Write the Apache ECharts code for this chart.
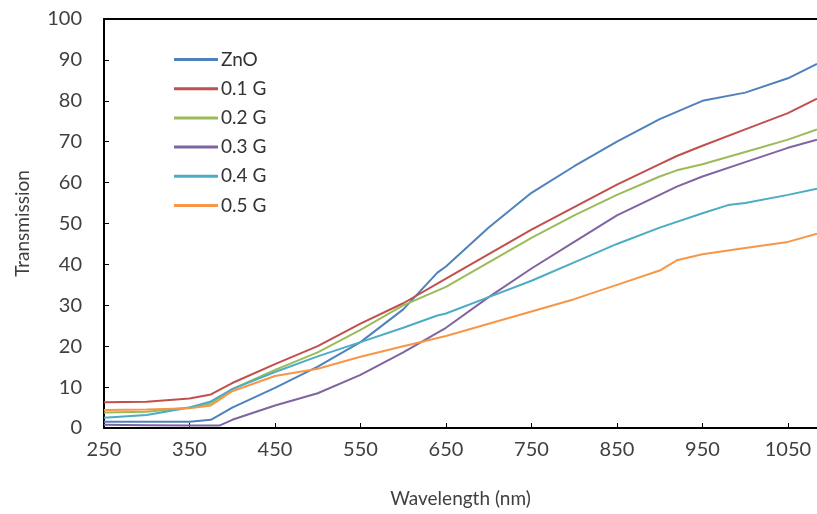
<!DOCTYPE html>
<html lang="en">
<head>
    <meta charset="utf-8">
    <title>Transmission</title>
    <script src="https://cdn.jsdelivr.net/npm/echarts@6/dist/echarts.min.js"></script>
    <style>
        html, body { margin: 0; padding: 0; background: #fff; }
        #chart { width: 817px; height: 514px; }
    </style>
</head>
<body>
<div id="chart"></div>
<script type="text/javascript">
    // values, [wavelength, transmission]
    var seriesNames = ['ZnO', '0.1 G', '0.2 G', '0.3 G', '0.4 G', '0.5 G'];
    var colors = ['#4F81BD', '#C0504D', '#9BBB59', '#8064A2', '#4BACC6', '#F79646'];

    var zno = [[250,1.5],[300,1.5],[350,1.5],[375,2],[400,5],[450,9.8],[500,15],[550,21],[600,29],[640,38],[650,39.5],[700,49],[750,57.5],[800,64],[850,70],[900,75.5],[950,80],[1000,82],[1050,85.5],[1084,89]];
    var g01 = [[250,6.3],[300,6.4],[350,7.2],[375,8.2],[400,11],[450,15.6],[500,20],[550,25.5],[600,30.5],[650,36.5],[700,42.5],[750,48.5],[800,54],[850,59.5],[900,64.5],[920,66.5],[950,69],[1000,73],[1050,77],[1084,80.5]];
    var g02 = [[250,3.8],[300,4],[350,5],[375,6],[400,9.5],[450,14.2],[500,18.5],[550,24],[600,30],[650,34.5],[700,40.5],[750,46.5],[800,52],[850,57],[900,61.5],[920,63],[950,64.5],[1000,67.5],[1050,70.5],[1084,73]];
    var g03 = [[250,0.8],[300,0.7],[350,0.6],[385,0.6],[400,2],[450,5.5],[500,8.5],[550,13],[600,18.5],[650,24.5],[700,32],[750,39],[800,45.5],[850,52],[900,57],[920,59],[950,61.5],[1000,65],[1050,68.5],[1084,70.5]];
    var g04 = [[250,2.5],[300,3.2],[350,5],[375,6.5],[400,9.5],[450,13.7],[500,17.5],[550,21],[600,24.5],[640,27.5],[650,28],[700,32],[750,36],[800,40.5],[850,45],[900,49],[950,52.5],[980,54.5],[1000,55],[1050,57],[1084,58.5]];
    var g05 = [[250,4.4],[300,4.5],[350,4.8],[375,5.5],[400,9],[450,12.7],[500,14.5],[550,17.4],[600,20],[650,22.5],[700,25.5],[750,28.5],[800,31.5],[850,35],[900,38.5],[920,41],[950,42.5],[1000,44],[1050,45.5],[1084,47.5]];
    var allData = [zno, g01, g02, g03, g04, g05];

    var chart = echarts.init(document.getElementById('chart'));
    var labelFont = { fontFamily: 'Lato', fontSize: 20, color: '#404040' };

    var series = [];
    for (var i = 0; i < allData.length; i++) {
        series.push({
            name: seriesNames[i],
            type: 'line',
            data: allData[i],
            showSymbol: false,
            symbol: 'none',
            lineStyle: { width: 2, color: colors[i] },
            itemStyle: { color: colors[i] },
            animation: false
        });
    }

    chart.setOption({
        backgroundColor: '#fff',
        grid: { left: 104, right: 0, top: 19, bottom: 86 },
        legend: {
            orient: 'vertical',
            left: 169,
            top: 45,
            icon: 'rect',
            itemWidth: 44,
            itemHeight: 3,
            itemGap: 10.2,
            textStyle: { fontFamily: 'Lato', fontSize: 19, color: '#333', padding: [0, 0, 0, -2] },
            data: seriesNames
        },
        xAxis: [{
            type: 'value',
            min: 250,
            max: 1084,
            interval: 100,
            name: 'Wavelength (nm)',
            nameLocation: 'middle',
            nameGap: 61,
            nameTextStyle: { fontFamily: 'Lato', fontSize: 19, color: '#404040' },
            axisLine: { show: true, lineStyle: { color: '#000', width: 2 } },
            axisTick: { show: true, inside: true, length: 5, lineStyle: { color: '#000' } },
            axisLabel: Object.assign({ margin: 12, showMaxLabel: false, formatter: function (v) { return String(v); } }, labelFont),
            splitLine: { show: false }
        }, {
            type: 'value',
            position: 'top',
            min: 250,
            max: 1084,
            axisLine: { show: true, lineStyle: { color: '#000', width: 2 } },
            axisTick: { show: false },
            axisLabel: { show: false },
            splitLine: { show: false }
        }],
        yAxis: {
            type: 'value',
            min: 0,
            max: 100,
            interval: 10,
            name: 'Transmission',
            nameLocation: 'middle',
            nameGap: 72,
            nameTextStyle: { fontFamily: 'Lato', fontSize: 19, color: '#404040' },
            axisLine: { show: true, lineStyle: { color: '#000', width: 2 } },
            axisTick: { show: true, inside: true, length: 5, lineStyle: { color: '#000' } },
            axisLabel: Object.assign({ margin: 22 }, labelFont),
            splitLine: { show: false }
        },
        series: series
    });
</script>
</body>
</html>
